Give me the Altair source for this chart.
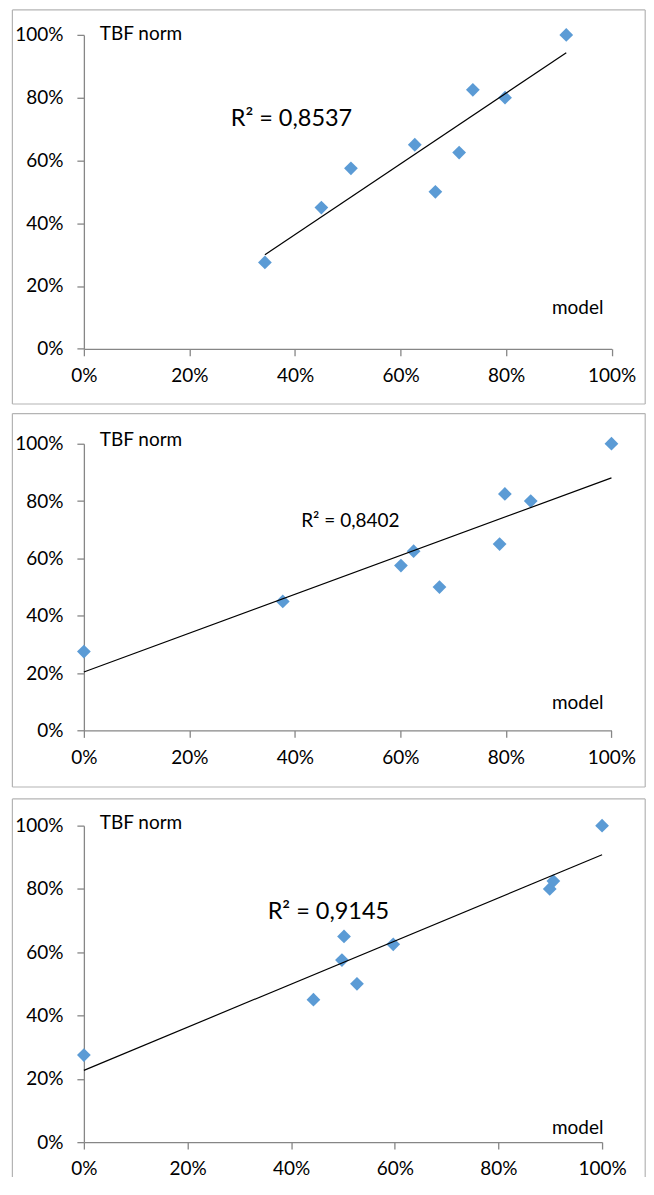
import altair as alt
import pandas as pd

# ---- data ----
MODEL_1 = [0.343, 0.450, 0.506, 0.627, 0.666, 0.711, 0.737, 0.798, 0.914]
TBF_1 = [0.275, 0.450, 0.575, 0.650, 0.500, 0.625, 0.825, 0.800, 1.000]

MODEL_2 = [0.000, 0.377, 0.601, 0.625, 0.674, 0.788, 0.798, 0.847, 1.000]
TBF_2 = [0.275, 0.450, 0.575, 0.625, 0.500, 0.650, 0.825, 0.800, 1.000]

MODEL_3 = [0.000, 0.443, 0.498, 0.502, 0.527, 0.597, 0.899, 0.906, 1.000]
TBF_3 = [0.275, 0.450, 0.575, 0.650, 0.500, 0.625, 0.800, 0.825, 1.000]

R2_LABELS = ["R² = 0,8537", "R² = 0,8402", "R² = 0,9145"]
Y_TITLE = "TBF norm"
X_TITLE = "model"
TICKS = [0, 0.2, 0.4, 0.6, 0.8, 1.0]

FONT = "Lato"
FS = 19
BLUE = "#5B9BD5"
AXIS_GRAY = "#868686"
BORDER_GRAY = "#b4b4b4"


def one_row(**kw):
    return pd.DataFrame({k: [v] for k, v in kw.items()})


def panel(xs, ys, r2, w, h, tbf_y, model_y, r2_x, r2_y, r2_size,
          box_top, box_bottom, draw_bottom=True):
    df = pd.DataFrame({"model": xs, "tbf": ys})
    xenc = alt.X("model:Q", scale=alt.Scale(domain=[0, 1], nice=False),
                 axis=alt.Axis(values=TICKS, format=".0%", title=None,
                               labelPadding=11, labelFlush=False))
    yenc = alt.Y("tbf:Q", scale=alt.Scale(domain=[0, 1], nice=False),
                 axis=alt.Axis(values=TICKS, format=".0%", title=None,
                               labelPadding=14, labelFlush=False))
    pts = alt.Chart(df).mark_point(shape="diamond", filled=True, size=190,
                                   color=BLUE, opacity=1).encode(x=xenc, y=yenc)
    line = alt.Chart(df).transform_regression("model", "tbf").mark_line(
        color="black", strokeWidth=1.2).encode(x=xenc, y=yenc)

    left, right = -71.6, 562.2
    edges = [
        dict(x=left, x2=right, y=box_top, y2=box_top),
        dict(x=left, x2=left, y=box_top, y2=box_bottom),
        dict(x=right, x2=right, y=box_top, y2=box_bottom),
    ]
    if draw_bottom:
        edges.append(dict(x=left, x2=right, y=box_bottom, y2=box_bottom))
    border = [
        alt.Chart(one_row(k=0)).mark_rule(color=BORDER_GRAY, strokeWidth=1.2).encode(
            x=alt.value(e["x"]), x2=alt.value(e["x2"]),
            y=alt.value(e["y"]), y2=alt.value(e["y2"]))
        for e in edges
    ]

    ytitle = alt.Chart(one_row(t=Y_TITLE)).mark_text(
        align="left", baseline="middle", font=FONT, fontSize=FS, color="black"
    ).encode(text="t:N", x=alt.value(15.9), y=alt.value(tbf_y))
    xtitle = alt.Chart(one_row(t=X_TITLE)).mark_text(
        align="right", baseline="middle", font=FONT, fontSize=FS, color="black"
    ).encode(text="t:N", x=alt.value(520.4), y=alt.value(model_y))
    r2txt = alt.Chart(one_row(t=r2)).mark_text(
        align="center", baseline="middle", font=FONT, fontSize=r2_size, color="black"
    ).encode(text="t:N", x=alt.value(r2_x), y=alt.value(r2_y))

    return alt.layer(*border, pts, line, ytitle, xtitle, r2txt).properties(
        width=w, height=h)


p1 = panel(MODEL_1, TBF_1, R2_LABELS[0], 528.6, 314.4,
           tbf_y=-1, model_y=273.3, r2_x=207.9, r2_y=84.7, r2_size=23.5,
           box_top=-25, box_bottom=369.7)
p2 = panel(MODEL_2, TBF_2, R2_LABELS[1], 528.4, 287.1,
           tbf_y=-3.3, model_y=259.5, r2_x=266.9, r2_y=77.8, r2_size=19,
           box_top=-30.2, box_bottom=343.8)
p3 = panel(MODEL_3, TBF_3, R2_LABELS[2], 519, 316.9,
           tbf_y=-2.7, model_y=303.2, r2_x=244.9, r2_y=86.2, r2_size=23.5,
           box_top=-26.8, box_bottom=352, draw_bottom=False)

chart = alt.vconcat(p1, p2, p3, spacing=94.5, bounds="flush").properties(
    padding={"left": 3.0, "top": 0, "right": 0, "bottom": 0}
).configure_view(stroke=None).configure_axis(
    grid=False,
    domainColor=AXIS_GRAY,
    domainWidth=1.3,
    tickColor=AXIS_GRAY,
    tickWidth=1.3,
    tickSize=7,
    labelFont=FONT,
    labelFontSize=FS,
    labelColor="black",
)

chart.save("out.html", embed_options={"renderer": "svg", "actions": False})
